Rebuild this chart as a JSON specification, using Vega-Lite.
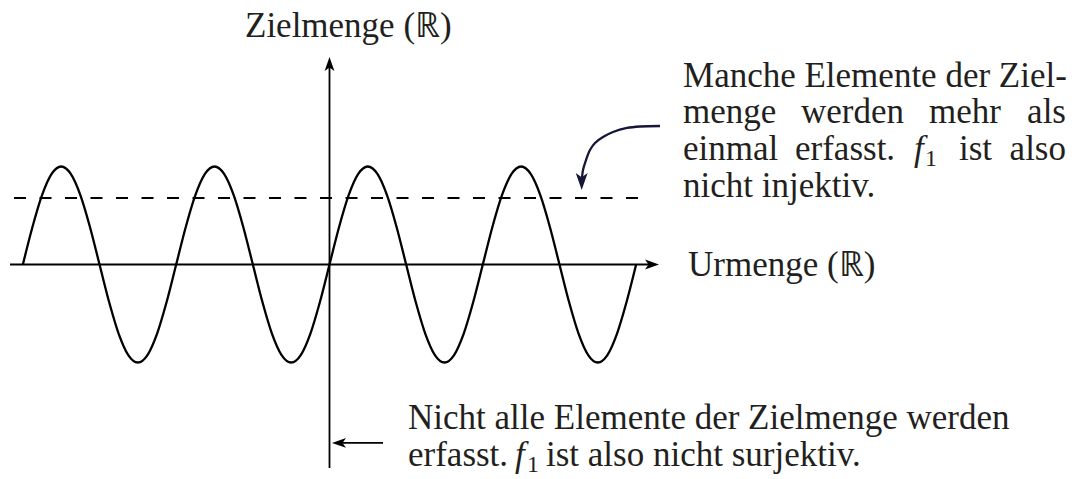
{
  "$schema": "https://vega.github.io/schema/vega-lite/v6.json",
  "width": 1074,
  "height": 479,
  "padding": 0,
  "autosize": {"type": "fit", "contains": "padding"},
  "background": "white",
  "config": {"view": {"stroke": null}},
  "encoding": {
    "x": {"field": "x", "type": "quantitative", "scale": {"domain": [-13.504, 30.512], "nice": false, "zero": false}, "axis": null},
    "y": {"field": "y", "type": "quantitative", "scale": {"domain": [-2.189, 2.699], "nice": false, "zero": false}, "axis": null}
  },
  "layer": [
    {
      "data": {"values": [
        {"x": -12.5664, "y": 0}, {"x": -12.1737, "y": 0.3827}, {"x": -11.7810, "y": 0.7071}, {"x": -11.3883, "y": 0.9239},
        {"x": -10.9956, "y": 1}, {"x": -10.6029, "y": 0.9239}, {"x": -10.2102, "y": 0.7071}, {"x": -9.8175, "y": 0.3827},
        {"x": -9.4248, "y": 0}, {"x": -9.0321, "y": -0.3827}, {"x": -8.6394, "y": -0.7071}, {"x": -8.2467, "y": -0.9239},
        {"x": -7.8540, "y": -1}, {"x": -7.4613, "y": -0.9239}, {"x": -7.0686, "y": -0.7071}, {"x": -6.6759, "y": -0.3827},
        {"x": -6.2832, "y": 0}, {"x": -5.8905, "y": 0.3827}, {"x": -5.4978, "y": 0.7071}, {"x": -5.1051, "y": 0.9239},
        {"x": -4.7124, "y": 1}, {"x": -4.3197, "y": 0.9239}, {"x": -3.9270, "y": 0.7071}, {"x": -3.5343, "y": 0.3827},
        {"x": -3.1416, "y": 0}, {"x": -2.7489, "y": -0.3827}, {"x": -2.3562, "y": -0.7071}, {"x": -1.9635, "y": -0.9239},
        {"x": -1.5708, "y": -1}, {"x": -1.1781, "y": -0.9239}, {"x": -0.7854, "y": -0.7071}, {"x": -0.3927, "y": -0.3827},
        {"x": 0, "y": 0}, {"x": 0.3927, "y": 0.3827}, {"x": 0.7854, "y": 0.7071}, {"x": 1.1781, "y": 0.9239},
        {"x": 1.5708, "y": 1}, {"x": 1.9635, "y": 0.9239}, {"x": 2.3562, "y": 0.7071}, {"x": 2.7489, "y": 0.3827},
        {"x": 3.1416, "y": 0}, {"x": 3.5343, "y": -0.3827}, {"x": 3.9270, "y": -0.7071}, {"x": 4.3197, "y": -0.9239},
        {"x": 4.7124, "y": -1}, {"x": 5.1051, "y": -0.9239}, {"x": 5.4978, "y": -0.7071}, {"x": 5.8905, "y": -0.3827},
        {"x": 6.2832, "y": 0}, {"x": 6.6759, "y": 0.3827}, {"x": 7.0686, "y": 0.7071}, {"x": 7.4613, "y": 0.9239},
        {"x": 7.8540, "y": 1}, {"x": 8.2467, "y": 0.9239}, {"x": 8.6394, "y": 0.7071}, {"x": 9.0321, "y": 0.3827},
        {"x": 9.4248, "y": 0}, {"x": 9.8175, "y": -0.3827}, {"x": 10.2102, "y": -0.7071}, {"x": 10.6029, "y": -0.9239},
        {"x": 10.9956, "y": -1}, {"x": 11.3883, "y": -0.9239}, {"x": 11.7810, "y": -0.7071}, {"x": 12.1737, "y": -0.3827},
        {"x": 12.5664, "y": 0}
      ]},
      "mark": {"type": "line", "color": "black", "strokeWidth": 2.3, "interpolate": "monotone"}
    },
    {
      "data": {"values": [{"x": -13.094, "x2": 13.299, "y": 0}]},
      "mark": {"type": "rule", "color": "black", "strokeWidth": 1.8},
      "encoding": {"x2": {"field": "x2"}}
    },
    {
      "data": {"values": [{"x": 0, "y": -2.077, "y2": 2.046}]},
      "mark": {"type": "rule", "color": "black", "strokeWidth": 1.8},
      "encoding": {"y2": {"field": "y2"}}
    },
    {
      "data": {"values": [{"x": -12.93, "x2": 12.807, "y": 0.679}]},
      "mark": {"type": "rule", "color": "black", "strokeWidth": 2, "strokeDash": [12, 13.5]},
      "encoding": {"x2": {"field": "x2"}}
    },
    {
      "data": {"values": [{"x": 0.430, "x2": 2.193, "y": -1.821}]},
      "mark": {"type": "rule", "color": "black", "strokeWidth": 1.8},
      "encoding": {"x2": {"field": "x2"}}
    },
    {
      "data": {"values": [
        {"o": 1, "x": 13.545, "y": 1.413}, {"o": 2, "x": 12.725, "y": 1.408}, {"o": 3, "x": 12.193, "y": 1.393},
        {"o": 4, "x": 11.619, "y": 1.352}, {"o": 5, "x": 11.209, "y": 1.301}, {"o": 6, "x": 10.881, "y": 1.240},
        {"o": 7, "x": 10.676, "y": 1.168}, {"o": 8, "x": 10.512, "y": 1.066}, {"o": 9, "x": 10.389, "y": 0.964},
        {"o": 10, "x": 10.348, "y": 0.883}
      ]},
      "mark": {"type": "line", "color": "#161636", "strokeWidth": 2.3, "interpolate": "catmull-rom"},
      "encoding": {"order": {"field": "o", "type": "quantitative"}}
    },
    {
      "data": {"values": [{"x": 0, "y": 2.046}]},
      "mark": {"type": "point", "shape": "M1,0L-1,-0.7L-0.5,0L-1,0.7Z", "filled": true, "color": "black", "opacity": 1, "size": 196, "angle": 270}
    },
    {
      "data": {"values": [{"x": 13.217, "y": 0}]},
      "mark": {"type": "point", "shape": "M1,0L-1,-0.7L-0.5,0L-1,0.7Z", "filled": true, "color": "black", "opacity": 1, "size": 196, "angle": 0}
    },
    {
      "data": {"values": [{"x": 0.389, "y": -1.821}]},
      "mark": {"type": "point", "shape": "M1,0L-1,-0.7L-0.5,0L-1,0.7Z", "filled": true, "color": "black", "opacity": 1, "size": 196, "angle": 180}
    },
    {
      "data": {"values": [{"x": 10.336, "y": 0.847}]},
      "mark": {"type": "point", "shape": "M1,0L-1,-0.7L-0.5,0L-1,0.7Z", "filled": true, "color": "#161636", "opacity": 1, "size": 289, "angle": 90}
    },
    {
      "data": {"values": [
        {"t": "Zielmenge (ℝ)", "x": -3.463, "y": 2.321},
        {"t": "Urmenge (ℝ)", "x": 14.693, "y": -0.117},
        {"t": "Manche Elemente der Ziel-", "x": 14.488, "y": 1.811},
        {"t": "menge", "x": 14.488, "y": 1.444},
        {"t": "werden", "x": 19.324, "y": 1.444},
        {"t": "mehr", "x": 24.570, "y": 1.444},
        {"t": "einmal", "x": 14.488, "y": 1.066},
        {"t": "erfasst.", "x": 19.078, "y": 1.066},
        {"t": "ist", "x": 25.799, "y": 1.066},
        {"t": "nicht injektiv.", "x": 14.488, "y": 0.689},
        {"t": "Nicht alle Elemente der Zielmenge werden", "x": 3.217, "y": -1.679},
        {"t": "erfasst.", "x": 3.217, "y": -2.056},
        {"t": "ist also nicht surjektiv.", "x": 8.873, "y": -2.056}
      ]},
      "mark": {"type": "text", "align": "left", "baseline": "alphabetic", "font": "Liberation Serif", "fontSize": 35, "color": "#231f20"},
      "encoding": {"text": {"field": "t"}}
    },
    {
      "data": {"values": [
        {"t": "als", "x": 30.184, "y": 1.444},
        {"t": "also", "x": 30.184, "y": 1.066}
      ]},
      "mark": {"type": "text", "align": "right", "baseline": "alphabetic", "font": "Liberation Serif", "fontSize": 35, "color": "#231f20"},
      "encoding": {"text": {"field": "t"}}
    },
    {
      "data": {"values": [
        {"t": "f", "x": 23.955, "y": 1.066},
        {"t": "f", "x": 7.602, "y": -2.056}
      ]},
      "mark": {"type": "text", "align": "left", "baseline": "alphabetic", "font": "Liberation Serif", "fontStyle": "italic", "fontSize": 35, "color": "#231f20"},
      "encoding": {"text": {"field": "t"}}
    },
    {
      "data": {"values": [
        {"t": "1", "x": 24.406, "y": 1.005},
        {"t": "1", "x": 8.094, "y": -2.117}
      ]},
      "mark": {"type": "text", "align": "left", "baseline": "alphabetic", "font": "Liberation Serif", "fontSize": 24, "color": "#231f20"},
      "encoding": {"text": {"field": "t"}}
    }
  ]
}
